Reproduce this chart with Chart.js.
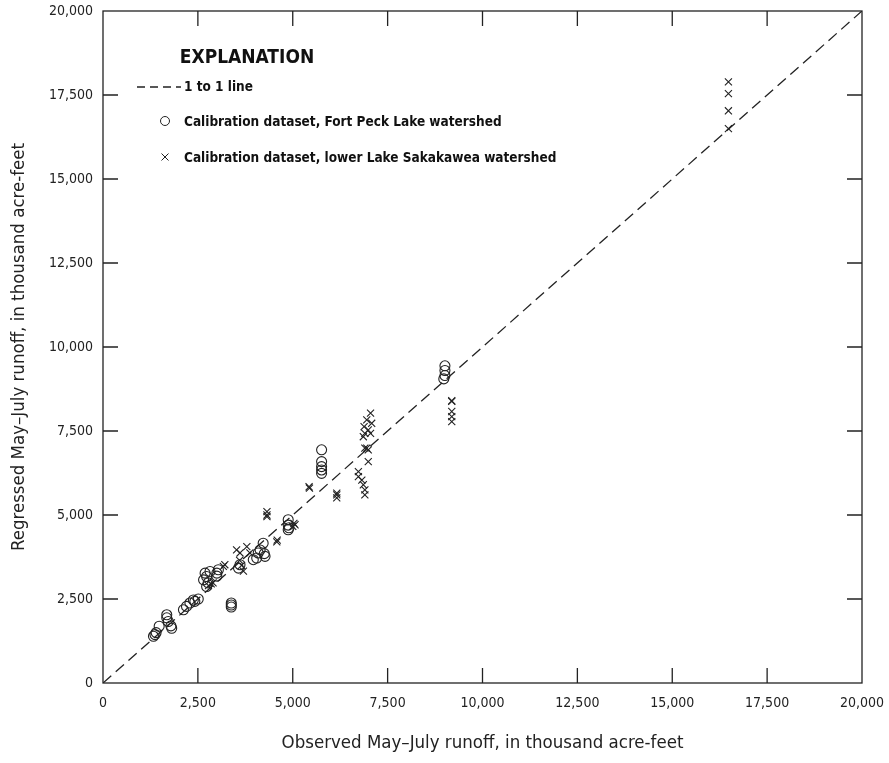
<!DOCTYPE html>
<html>
<head>
<meta charset="utf-8">
<script src="https://cdn.jsdelivr.net/npm/chart.js@4"></script>
<style>
  html, body { margin: 0; padding: 0; background: #fff; }
  #wrap { width: 889px; height: 763px; position: relative; }
</style>
</head>
<body>
<div id="wrap"><canvas id="chart"></canvas></div>
<script>
// Fort Peck Lake watershed calibration data (thousand acre-feet)
const fortPeckObserved = [1330, 1370, 1400, 1480, 1680, 1680, 1720, 1790, 1810, 2120, 2200, 2290, 2380, 2420, 2510,
  3380, 3380, 3380, 2650, 2690, 2730, 2770, 2730, 2820, 3000, 3040, 3000, 3610, 3570, 3960, 4050, 4090, 4140, 4220,
  4270, 4250, 4880, 4880, 4880, 4900, 5760, 5760, 5760, 5760, 5760, 9010, 9010, 9010, 8980];
const fortPeckRegressed = [1390, 1440, 1500, 1690, 2030, 1940, 1830, 1700, 1630, 2180, 2280, 2380, 2470, 2430, 2500,
  2260, 2320, 2380, 3070, 3270, 3170, 2980, 2870, 3320, 3270, 3370, 3180, 3520, 3420, 3670, 3720, 3870, 3960, 4160,
  3770, 3850, 4860, 4560, 4700, 4620, 6940, 6590, 6440, 6340, 6240, 9440, 9300, 9150, 9050];

// lower Lake Sakakawea watershed calibration data
const sakakaweaObserved = [2780, 2850, 2900, 3170, 3210, 3520, 3610, 3790, 3870, 3700, 3650, 3600, 4320, 4320, 4320,
  4580, 4590, 5060, 5030, 5000, 5430, 5440, 6160, 6160, 6160, 6730, 6730, 6820, 6860, 6900, 6900, 7050, 6950, 7080,
  6880, 6990, 6900, 7050, 6860, 6950, 6990, 6900, 6990, 9190, 9190, 9190, 9190, 9190, 16480, 16480, 16480, 16480];
const sakakaweaRegressed = [2900, 2950, 2980, 3470, 3520, 3960, 3870, 4060, 3870, 3330, 3500, 3650, 5100, 5000, 4950,
  4200, 4250, 4710, 4750, 4660, 5840, 5800, 5650, 5600, 5510, 6290, 6140, 6040, 5900, 5750, 5600, 8030, 7830, 7730,
  7630, 7530, 7430, 7430, 7330, 6990, 6940, 6990, 6590, 8400, 8380, 8080, 7930, 7780, 17890, 17540, 17030, 16500];

const oneToOne = [0, 20000];
const axisMin = 0, axisMax = 20000, axisStep = 2500;

const FONT = '"DejaVu Sans Condensed", "Liberation Sans Narrow", "Liberation Sans", sans-serif';

function pairs(xs, ys) {
  return xs.map((x, i) => ({ x: x, y: ys[i] }));
}

// inward ticks, frame and the EXPLANATION box
const framePlugin = {
  id: 'frame',
  afterDatasetsDraw(chart) {
    const ctx = chart.ctx;
    const a = chart.chartArea;
    const xs = chart.scales.x, ys = chart.scales.y;
    const len = 15;
    ctx.save();
    ctx.strokeStyle = '#222';
    ctx.lineWidth = 1.3;
    ctx.strokeRect(a.left, a.top, a.right - a.left, a.bottom - a.top);
    ctx.beginPath();
    xs.ticks.forEach(t => {
      if (t.value <= axisMin || t.value >= axisMax) return;
      const px = xs.getPixelForValue(t.value);
      ctx.moveTo(px, a.bottom); ctx.lineTo(px, a.bottom - len);
      ctx.moveTo(px, a.top); ctx.lineTo(px, a.top + len);
    });
    ys.ticks.forEach(t => {
      if (t.value <= axisMin || t.value >= axisMax) return;
      const py = ys.getPixelForValue(t.value);
      ctx.moveTo(a.left, py); ctx.lineTo(a.left + len, py);
      ctx.moveTo(a.right, py); ctx.lineTo(a.right - len, py);
    });
    ctx.stroke();

    // legend
    const lx = a.left;
    ctx.fillStyle = '#111';
    ctx.textBaseline = 'middle';
    ctx.font = 'bold 19px ' + FONT;
    ctx.textAlign = 'center';
    ctx.fillText('EXPLANATION', lx + 144, a.top + 47);
    ctx.textAlign = 'left';
    ctx.font = 'bold 13.5px ' + FONT;

    ctx.lineWidth = 1.3;
    ctx.setLineDash([8, 5]);
    ctx.beginPath();
    ctx.moveTo(lx + 34, a.top + 76); ctx.lineTo(lx + 78, a.top + 76);
    ctx.stroke();
    ctx.setLineDash([]);
    ctx.fillText('1 to 1 line', lx + 81, a.top + 76);

    ctx.lineWidth = 1;
    ctx.beginPath();
    ctx.arc(lx + 62, a.top + 110, 4.5, 0, Math.PI * 2);
    ctx.stroke();
    ctx.fillText('Calibration dataset, Fort Peck Lake watershed', lx + 81, a.top + 111);

    ctx.beginPath();
    ctx.moveTo(lx + 58.5, a.top + 142.5); ctx.lineTo(lx + 65.5, a.top + 149.5);
    ctx.moveTo(lx + 65.5, a.top + 142.5); ctx.lineTo(lx + 58.5, a.top + 149.5);
    ctx.stroke();
    ctx.fillText('Calibration dataset, lower Lake Sakakawea watershed', lx + 81, a.top + 147);
    ctx.restore();
  }
};

const tickFmt = v => Number(v).toLocaleString('en-US');

new Chart(document.getElementById('chart'), {
  type: 'scatter',
  data: {
    datasets: [
      {
        label: '1 to 1 line',
        type: 'line',
        data: pairs(oneToOne, oneToOne),
        borderColor: '#222',
        borderWidth: 1.3,
        borderDash: [11, 6],
        pointRadius: 0,
        fill: false
      },
      {
        label: 'Calibration dataset, Fort Peck Lake watershed',
        data: pairs(fortPeckObserved, fortPeckRegressed),
        pointStyle: 'circle',
        pointRadius: 5,
        pointBorderWidth: 1.1,
        borderColor: '#222',
        backgroundColor: 'rgba(0,0,0,0)'
      },
      {
        label: 'Calibration dataset, lower Lake Sakakawea watershed',
        data: pairs(sakakaweaObserved, sakakaweaRegressed),
        pointStyle: 'crossRot',
        pointRadius: 5,
        pointBorderWidth: 1.1,
        borderColor: '#222',
        backgroundColor: '#222'
      }
    ]
  },
  options: {
    responsive: true,
    maintainAspectRatio: false,
    animation: false,
    layout: { padding: { top: 11, right: 27, left: 0, bottom: 0 } },
    plugins: {
      legend: { display: false },
      tooltip: { enabled: false }
    },
    scales: {
      x: {
        type: 'linear',
        min: axisMin, max: axisMax,
        border: { display: false },
        grid: { drawOnChartArea: false, drawTicks: false },
        ticks: { stepSize: axisStep, padding: 12, color: '#222', font: { family: FONT, size: 14 }, callback: tickFmt, maxRotation: 0 },
        title: { display: true, text: 'Observed May\u2013July runoff, in thousand acre-feet', color: '#222',
          font: { family: FONT, size: 18.5 }, padding: { top: 4, bottom: 9 } },
        afterFit(scale) { scale.height = 80; scale.paddingLeft = 0; scale.paddingRight = 0; }
      },
      y: {
        type: 'linear',
        min: axisMin, max: axisMax,
        border: { display: false },
        grid: { drawOnChartArea: false, drawTicks: false },
        ticks: { stepSize: axisStep, padding: 10, color: '#222', font: { family: FONT, size: 14 }, callback: tickFmt },
        title: { display: true, text: 'Regressed May\u2013July runoff, in thousand acre-feet', color: '#222',
          font: { family: FONT, size: 18.5 }, padding: { top: 8, bottom: 8 } },
        afterFit(scale) { scale.width = 103; scale.paddingTop = 0; scale.paddingBottom = 0; }
      }
    }
  },
  plugins: [framePlugin]
});
</script>
</body>
</html>
